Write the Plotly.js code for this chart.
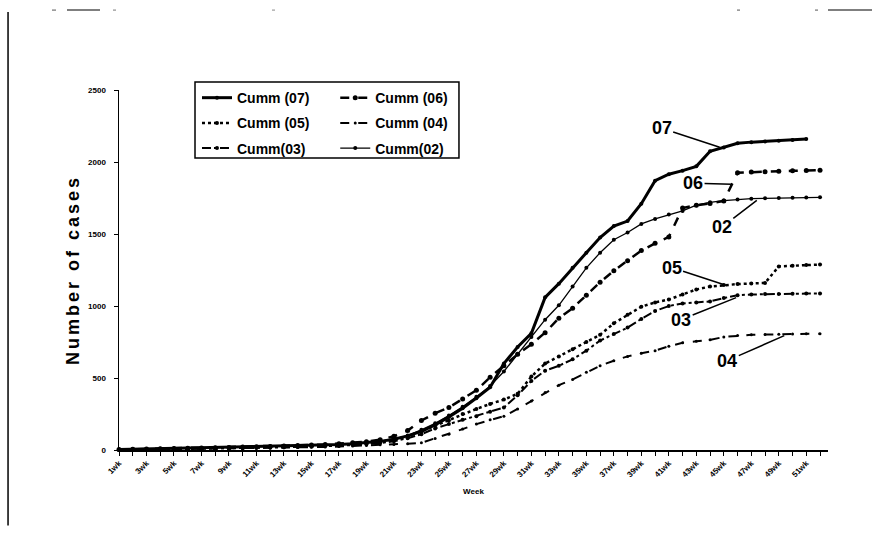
<!DOCTYPE html>
<html>
<head>
<meta charset="utf-8">
<script src="https://cdn.plot.ly/plotly-3.0.1.min.js"></script>
<style>
html,body{margin:0;padding:0;background:#fff;}
#chart{width:875px;height:534px;}
.ytitle{letter-spacing:3px;}
</style>
</head>
<body>
<div id="chart"></div>
<script>
const weeks = [1,2,3,4,5,6,7,8,9,10,11,12,13,14,15,16,17,18,19,20,21,22,23,24,25,26,27,28,29,30,31,32,33,34,35,36,37,38,39,40,41,42,43,44,45,46,47,48,49,50,51,52];
const tickWeeks = [1,3,5,7,9,11,13,15,17,19,21,23,25,27,29,31,33,35,37,39,41,43,45,47,49,51];
const tickLabels = ["1wk","3wk","5wk","7wk","9wk","11wk","13wk","15wk","17wk","19wk","21wk","23wk","25wk","27wk","29wk","31wk","33wk","35wk","37wk","39wk","41wk","43wk","45wk","47wk","49wk","51wk"];

const cumm07 = [3,5,7,9,11,12,14,15,17,19, 21,23,25,28,31,34,38,43,50,60, 75,98,130,175,230,290,360,435,600,715, 810,1060,1155,1265,1370,1475,1555,1590,1710,1870, 1915,1940,1970,2075,2100,2130,2138,2143,2148,2153, 2159];
const cumm06 = [3,5,7,8,10,12,14,16,18,20, 22,25,28,31,35,39,44,50,58,72, 95,135,205,255,295,355,415,505,585,665, 735,815,915,985,1075,1165,1245,1315,1385,1435, 1480,1680,1700,1712,1730,1925,1930,1933,1936,1939, 1941,1943];
const cumm05 = [2,3,5,6,8,9,11,12,14,16, 18,20,22,25,28,31,35,40,46,55, 70,95,130,170,205,250,285,320,350,390, 510,600,650,700,750,800,880,940,995,1025, 1045,1080,1115,1135,1145,1152,1157,1160,1275,1280, 1284,1288];
const cumm04 = [1,2,3,4,5,6,7,8,9,10, 12,13,15,17,19,21,24,27,31,36, 38,44,50,80,110,145,180,210,235,285, 340,400,450,490,540,585,620,650,672,690, 720,745,755,765,785,795,800,802,804,806, 807,808];
const cumm03 = [2,3,4,5,6,8,9,10,12,13, 15,17,19,21,24,27,30,34,40,48, 60,82,110,150,180,210,235,265,295,380, 480,550,585,630,690,760,805,850,910,965, 1000,1018,1025,1032,1055,1075,1080,1083,1084,1085, 1086,1086];
const cumm02 = [2,4,5,7,9,10,12,14,16,18, 20,22,25,28,31,35,39,45,52,62, 78,100,140,185,240,300,370,445,545,665, 785,905,1005,1135,1265,1370,1460,1510,1570,1605, 1635,1660,1700,1720,1732,1740,1745,1748,1750,1752, 1754,1755];

const seriesNames = ["Cumm (07)","Cumm (06)","Cumm (05)","Cumm (04)","Cumm(03)","Cumm(02)"];
const labelText = ["07","06","05","03","04","02"];
const labelWeek = [44.7,45.6,45.2,45.9,49.4,47.4];
const labelValue = [2103,1845,1142,1058,794,1734];

function tr(y, name, legend, width, dash, msize, sym){
  return {x: weeks.slice(0, y.length), y: y, name: name, type:'scatter', mode:'lines+markers',
    legend: legend, legendgroup: name,
    line:{color:'#000', width: width, dash: dash},
    marker:{color:'#000', size: msize, symbol: sym}, cliponaxis:false};
}
const data = [
  tr(cumm07, seriesNames[0], 'legend', 3, 'solid', 4, 'circle'),
  tr(cumm05, seriesNames[2], 'legend', 2.5, 'dot', 4, 'circle'),
  tr(cumm03, seriesNames[4], 'legend', 2, 'dashdot', 4, 'circle'),
  tr(cumm06, seriesNames[1], 'legend2', 2.5, 'dash', 5, 'circle'),
  tr(cumm04, seriesNames[3], 'legend2', 2, 'dash', 3, 'circle'),
  tr(cumm02, seriesNames[5], 'legend2', 1.3, 'solid', 4, 'circle')
];

const annOffsets = [[-58,-19],[-39,-1],[-55,-18],[-55,22],[-57,25],[-35,27]];
const annotations = labelText.map((t,i)=>({
  x: labelWeek[i], y: labelValue[i], xref:'x', yref:'y', text: t,
  showarrow:true, arrowhead:0, arrowwidth:1.5, arrowcolor:'#000',
  ax: annOffsets[i][0], ay: annOffsets[i][1], standoff:0,
  font:{family:'Liberation Sans Narrow, Arial Narrow, Arial', size:18, color:'#000', weight:700}
}));

const legFont = {family:'Arial, Liberation Sans', size:14, color:'#000', weight:700};
const layout = {
  width:875, height:534,
  margin:{l:119, r:47, t:90, b:84},
  paper_bgcolor:'#fff', plot_bgcolor:'#fff',
  showlegend:true,
  legend:{x:0.11, y:1.022, xanchor:'left', yanchor:'top', bgcolor:'rgba(0,0,0,0)', borderwidth:0,
    font:legFont, tracegroupgap:4, itemwidth:30},
  legend2:{x:0.305, y:1.022, xanchor:'left', yanchor:'top', bgcolor:'rgba(0,0,0,0)', borderwidth:0,
    font:legFont, tracegroupgap:4, itemwidth:30},
  xaxis:{range:[1,52.58], tickmode:'array', tickvals:tickWeeks, ticktext:tickLabels,
    tickangle:-45, tickfont:{family:'Arial', size:8, color:'#000', weight:700},
    showgrid:false, zeroline:false, showline:true, linecolor:'#000', linewidth:1.5,
    ticks:'outside', ticklen:4, tickcolor:'#000',
    minor:{dtick:1, tick0:0, ticks:'outside', ticklen:4, tickcolor:'#000', showgrid:false},
    title:{text:'Week', font:{family:'Arial', size:8, color:'#000', weight:700}, standoff:10}},
  yaxis:{range:[0,2500], tickvals:[0,500,1000,1500,2000,2500], ticktext:['0','500','1000','1500','2000','2500'],
    tickfont:{family:'Arial', size:8, color:'#000', weight:700}, ticklabelstandoff:6,
    showgrid:false, zeroline:false, showline:true, linecolor:'#000', linewidth:1.5,
    ticks:'outside', ticklen:4, tickcolor:'#000',
    title:{text:'Number of cases', font:{family:'Arial', size:18, color:'#000', weight:700}, standoff:4}},
  annotations: annotations,
  shapes:[
    {type:'rect', xref:'paper', yref:'paper', x0:0.1072, x1:0.4795, y0:0.811, y1:1.022, line:{color:'#000', width:1.5}},
    {type:'line', xref:'paper', yref:'paper', x0:-0.1565, x1:-0.1565, y0:-0.21, y1:1.217, line:{color:'#000', width:1.5}},
    {type:'line', xref:'paper', yref:'paper', x0:(52-119)/709, x1:(56-119)/709, y0:1.222, y1:1.222, line:{color:'#555', width:1}},
    {type:'line', xref:'paper', yref:'paper', x0:(67-119)/709, x1:(100-119)/709, y0:1.222, y1:1.222, line:{color:'#555', width:1.5}},
    {type:'line', xref:'paper', yref:'paper', x0:(113-119)/709, x1:(119-119)/709, y0:1.222, y1:1.222, line:{color:'#777', width:1, dash:'dot'}},
    {type:'line', xref:'paper', yref:'paper', x0:(272-119)/709, x1:(278-119)/709, y0:1.222, y1:1.222, line:{color:'#888', width:1, dash:'dot'}},
    {type:'line', xref:'paper', yref:'paper', x0:(737-119)/709, x1:(740-119)/709, y0:1.222, y1:1.222, line:{color:'#555', width:1}},
    {type:'line', xref:'paper', yref:'paper', x0:(815-119)/709, x1:(818-119)/709, y0:1.222, y1:1.222, line:{color:'#555', width:1}},
    {type:'line', xref:'paper', yref:'paper', x0:(828-119)/709, x1:(872-119)/709, y0:1.222, y1:1.222, line:{color:'#555', width:1.5}}
  ]
};
Plotly.newPlot('chart', data, layout, {displayModeBar:false, staticPlot:true});
</script>
</body>
</html>
